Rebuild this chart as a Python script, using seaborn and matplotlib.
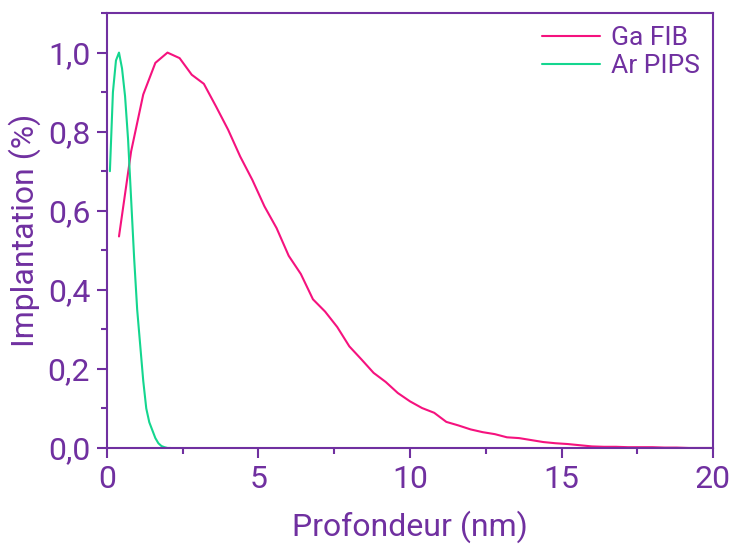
import matplotlib
matplotlib.use("Agg")
import matplotlib.pyplot as plt
from matplotlib.ticker import MultipleLocator, FuncFormatter
import pandas as pd
import seaborn as sns

# Ga FIB profil (nm, implantation normalisee)
ga_depth = [0.4, 0.8, 1.2, 1.6, 2.0, 2.4, 2.8, 3.2, 3.6, 4.0,
            4.4, 4.8, 5.2, 5.6, 6.0, 6.4, 6.8, 7.2, 7.6, 8.0,
            8.4, 8.8, 9.2, 9.6, 10.0, 10.4, 10.8, 11.2, 11.6, 12.0,
            12.4, 12.8, 13.2, 13.6, 14.0, 14.4, 14.8, 15.2, 15.6, 16.0,
            16.4, 16.8, 17.2, 17.6, 18.0, 18.4, 18.8, 19.2, 19.6, 20.0]
ga_impl = [0.535, 0.75, 0.894, 0.974, 1.0, 0.986, 0.944, 0.921, 0.864, 0.805,
           0.737, 0.678, 0.611, 0.556, 0.486, 0.44, 0.376, 0.345, 0.306, 0.257,
           0.224, 0.19, 0.167, 0.139, 0.118, 0.101, 0.089, 0.066, 0.057, 0.047,
           0.040, 0.035, 0.027, 0.025, 0.020, 0.015, 0.012, 0.010, 0.007, 0.004,
           0.003, 0.003, 0.002, 0.002, 0.002, 0.001, 0.001, 0.0, 0.0, 0.0]

# Ar PIPS profil
ar_depth = [0.1, 0.2, 0.3, 0.4, 0.5, 0.6, 0.7, 0.8, 0.9, 1.0,
            1.1, 1.2, 1.3, 1.4, 1.5, 1.6, 1.7, 1.8, 1.9, 2.0, 2.1]
ar_impl = [0.70, 0.90, 0.98, 1.0, 0.96, 0.89, 0.78, 0.63, 0.48, 0.35,
           0.26, 0.17, 0.10, 0.065, 0.045, 0.025, 0.012, 0.005, 0.002, 0.0, 0.0]

violet = "#7030a0"
couleurs = {"Ga FIB": "#f5127e", "Ar PIPS": "#14d68f"}

df = pd.concat([
    pd.DataFrame({"prof": ga_depth, "impl": ga_impl, "source": "Ga FIB"}),
    pd.DataFrame({"prof": ar_depth, "impl": ar_impl, "source": "Ar PIPS"}),
])

sns.set_style("white")
plt.rcParams["font.family"] = ["Roboto", "DejaVu Sans"]

fig = plt.figure(figsize=(7.37, 5.44), dpi=100)
ax = fig.add_axes([0.145, 0.1765, 0.8225, 0.7995])

sns.lineplot(data=df, x="prof", y="impl", hue="source", palette=couleurs,
             linewidth=1.5, sort=False, estimator=None, ax=ax)

ax.set_xlim(0, 20)
ax.set_ylim(0, 1.1)
ax.xaxis.set_major_locator(MultipleLocator(5))
ax.xaxis.set_minor_locator(MultipleLocator(2.5))
ax.yaxis.set_major_locator(MultipleLocator(0.2))
ax.yaxis.set_minor_locator(MultipleLocator(0.1))
ax.yaxis.set_major_formatter(FuncFormatter(lambda v, p: f"{v:.1f}".replace(".", ",")))

for s in ax.spines.values():
    s.set_color(violet)
    s.set_linewidth(1.5)

ax.tick_params(which="both", direction="out", colors=violet, labelsize=23,
               bottom=True, left=True, top=False, right=False)
ax.tick_params(which="major", length=7, width=1.5, pad=5)
ax.tick_params(which="minor", length=4, width=1.5)

ax.set_xlabel("Profondeur (nm)", fontsize=23, color=violet, labelpad=12)
ax.set_ylabel("Implantation (%)", fontsize=23, color=violet, labelpad=5)

leg = ax.legend(loc="upper right", frameon=False, fontsize=19, handlelength=2.2,
                handletextpad=0.4, labelspacing=0.15, borderaxespad=0.1)
for t in leg.get_texts():
    t.set_color(violet)

fig.savefig("out.png", dpi=100)
